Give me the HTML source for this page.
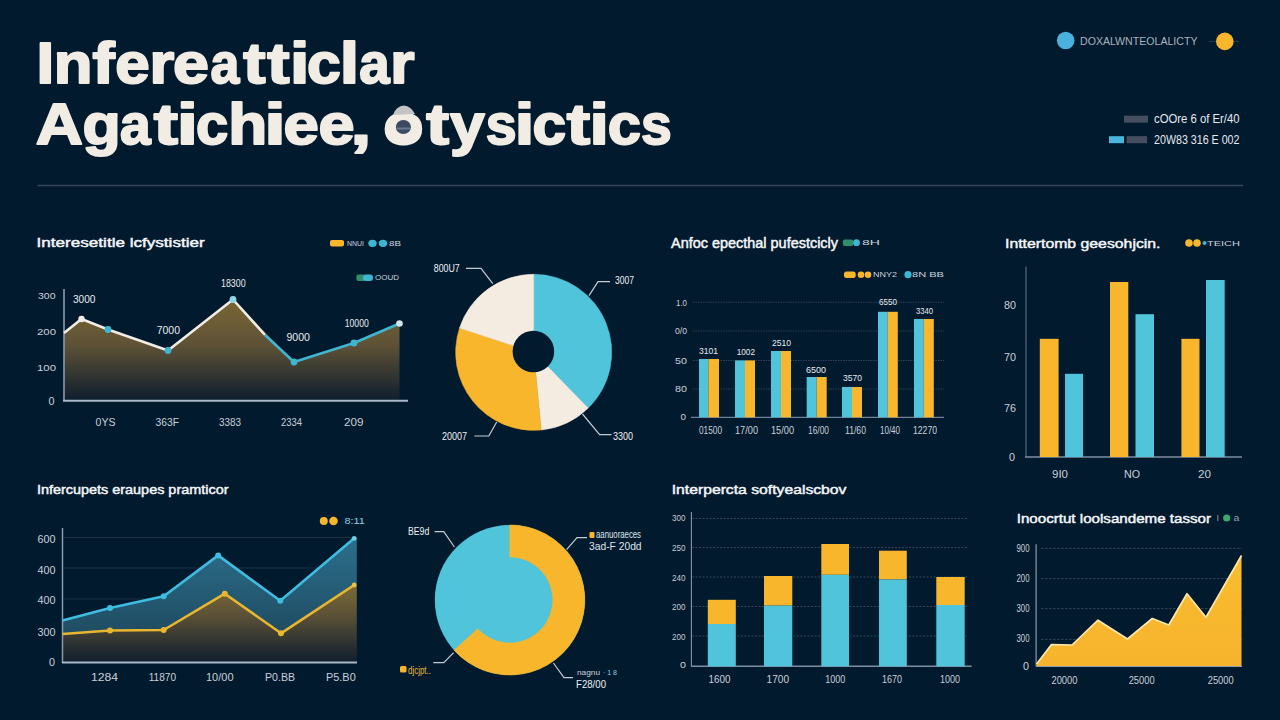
<!DOCTYPE html>
<html><head><meta charset="utf-8"><style>
html,body{margin:0;padding:0;background:#011a2e;width:1280px;height:720px;overflow:hidden}
svg{display:block;font-family:"Liberation Sans", sans-serif}
</style></head><body>
<svg width="1280" height="720" viewBox="0 0 1280 720">
<rect width="1280" height="720" fill="#011a2e"/>
<g fill="#f2ede4" stroke="#f2ede4" stroke-width="2" stroke-linejoin="round">
<text transform="translate(36.54,83.1) scale(1.109,1)" font-size="57.5" font-weight="bold">I</text>
<text transform="translate(53.63,83.1) scale(1.102,1)" font-size="57.5" font-weight="bold">n</text>
<text transform="translate(92.52,83.1) scale(1.159,1)" font-size="57.5" font-weight="bold">f</text>
<text transform="translate(115.36,83.1) scale(1.077,1)" font-size="57.5" font-weight="bold">e</text>
<text transform="translate(149.61,83.1) scale(1.106,1)" font-size="57.5" font-weight="bold">r</text>
<text transform="translate(173.10,83.1) scale(1.125,1)" font-size="57.5" font-weight="bold">e</text>
<text transform="translate(210.38,83.1) scale(0.900,1)" font-size="57.5" font-weight="bold">a</text>
<text transform="translate(243.35,83.1) scale(1.165,1)" font-size="57.5" font-weight="bold">t</text>
<text transform="translate(267.35,83.1) scale(1.165,1)" font-size="57.5" font-weight="bold">t</text>
<text transform="translate(290.04,83.1) scale(1.213,1)" font-size="57.5" font-weight="bold">i</text>
<text transform="translate(306.99,83.1) scale(1.055,1)" font-size="57.5" font-weight="bold">c</text>
<text transform="translate(339.84,83.1) scale(1.213,1)" font-size="57.5" font-weight="bold">l</text>
<text transform="translate(359.15,83.1) scale(0.949,1)" font-size="57.5" font-weight="bold">a</text>
<text transform="translate(390.37,83.1) scale(1.085,1)" font-size="57.5" font-weight="bold">r</text>
<text transform="translate(35.76,144.4) scale(1.135,1)" font-size="57.5" font-weight="bold">A</text>
<text transform="translate(82.42,144.4) scale(1.087,1)" font-size="57.5" font-weight="bold">g</text>
<text transform="translate(119.94,144.4) scale(0.958,1)" font-size="57.5" font-weight="bold">a</text>
<text transform="translate(153.78,144.4) scale(1.266,1)" font-size="57.5" font-weight="bold">t</text>
<text transform="translate(176.78,144.4) scale(1.335,1)" font-size="57.5" font-weight="bold">i</text>
<text transform="translate(195.94,144.4) scale(1.008,1)" font-size="57.5" font-weight="bold">c</text>
<text transform="translate(228.35,144.4) scale(1.110,1)" font-size="57.5" font-weight="bold">h</text>
<text transform="translate(264.35,144.4) scale(1.345,1)" font-size="57.5" font-weight="bold">i</text>
<text transform="translate(283.42,144.4) scale(1.105,1)" font-size="57.5" font-weight="bold">e</text>
<text transform="translate(318.59,144.4) scale(1.129,1)" font-size="57.5" font-weight="bold">e</text>
<text transform="translate(350.62,144.4) scale(1.301,1)" font-size="57.5" font-weight="bold">,</text>
<text transform="translate(383.27,144.4) scale(1.149,1)" font-size="57.5" font-weight="bold">o</text>
<text transform="translate(426.35,144.4) scale(1.190,1)" font-size="57.5" font-weight="bold">t</text>
<text transform="translate(450.10,144.4) scale(1.087,1)" font-size="57.5" font-weight="bold">y</text>
<text transform="translate(485.72,144.4) scale(0.963,1)" font-size="57.5" font-weight="bold">s</text>
<text transform="translate(514.71,144.4) scale(1.224,1)" font-size="57.5" font-weight="bold">i</text>
<text transform="translate(532.44,144.4) scale(1.050,1)" font-size="57.5" font-weight="bold">c</text>
<text transform="translate(566.76,144.4) scale(1.221,1)" font-size="57.5" font-weight="bold">t</text>
<text transform="translate(589.54,144.4) scale(1.213,1)" font-size="57.5" font-weight="bold">i</text>
<text transform="translate(607.71,144.4) scale(1.038,1)" font-size="57.5" font-weight="bold">c</text>
<text transform="translate(640.92,144.4) scale(0.959,1)" font-size="57.5" font-weight="bold">s</text>
</g>
<ellipse cx="403.3" cy="129.5" rx="10" ry="11" fill="#f2ede4"/>
<ellipse cx="403.4" cy="127" rx="7.6" ry="7" fill="#3c4a62"/>
<rect x="396.5" y="127.5" width="14" height="2" fill="#8a96a8" opacity="0.6"/>
<path d="M393,115 Q396,106 404,105.5 Q411,106 415,114 Z" fill="#c4c3c6"/>
<line x1="37.5" y1="185.5" x2="1243" y2="185.5" stroke="#34465a" stroke-width="1.6"/>
<circle cx="1065.7" cy="40.5" r="8.8" fill="#4ab0dc"/>
<text x="1080" y="44.5" font-size="11" fill="#a9b3bf" text-anchor="start" font-weight="normal" textLength="117.5" lengthAdjust="spacingAndGlyphs" >DOXALWNTEOLALICTY</text>
<line x1="1209" y1="41.4" x2="1239" y2="41.4" stroke="#2b3c50" stroke-width="1"/>
<circle cx="1224.8" cy="41.4" r="8.8" fill="#f8b62c"/>
<rect x="1124" y="115.7" width="24" height="7" fill="#454e5e"/>
<text x="1154" y="123.1" font-size="12" fill="#e6e9ee" text-anchor="start" font-weight="normal" textLength="85.5" lengthAdjust="spacingAndGlyphs" >cOOre 6 of Er/40</text>
<rect x="1109" y="136.2" width="15" height="7" fill="#49b6de"/>
<rect x="1126.6" y="136.2" width="20.5" height="7" fill="#454e5e"/>
<text x="1154" y="143.9" font-size="12" fill="#e6e9ee" text-anchor="start" font-weight="normal" textLength="85.5" lengthAdjust="spacingAndGlyphs" >20W83 316 E 002</text>
<text x="36.6" y="246.9" font-size="13" fill="#f4f6f8" text-anchor="start" font-weight="normal" textLength="168.1" lengthAdjust="spacingAndGlyphs" stroke="#f4f6f8" stroke-width="0.45">Interesetitle lcfystistier</text>
<defs><linearGradient id="g1" x1="0" y1="0" x2="0" y2="1"><stop offset="0" stop-color="#7a6734"/><stop offset="0.45" stop-color="#5e5236"/><stop offset="1" stop-color="#0f1e2e"/></linearGradient></defs>
<polygon points="64,333 81.5,319 108,329.5 168,350.5 233,299.5 294,362 354,343 399.5,323.5 399.5,400 64,400" fill="url(#g1)"/>
<line x1="64" y1="289" x2="64" y2="401" stroke="#8a9bb0" stroke-width="1.6"/>
<line x1="63" y1="400.8" x2="408" y2="400.8" stroke="#a9b8c8" stroke-width="2"/>
<polyline points="64,333 81.5,319 108,329.5 168,350.5 233,299.5 265,335" fill="none" stroke="#f2ede4" stroke-width="2.6" stroke-linejoin="round"/>
<polyline points="265,335 294,362 354,343 399.5,323.5" fill="none" stroke="#3fb6d0" stroke-width="2.6" stroke-linejoin="round"/>
<circle cx="108" cy="329.5" r="3.4" fill="#3fb6d0"/>
<circle cx="168" cy="350.5" r="3.4" fill="#3fb6d0"/>
<circle cx="294" cy="362" r="3.4" fill="#3fb6d0"/>
<circle cx="354" cy="343" r="3.4" fill="#3fb6d0"/>
<circle cx="233" cy="299.5" r="3.4" fill="#8fd6e6"/>
<circle cx="81.5" cy="319" r="3.2" fill="#f2ede4"/>
<circle cx="399.5" cy="323.5" r="3.3" fill="#cfe6ee"/>
<text x="38" y="299.4" font-size="9.5" fill="#c9d1da" text-anchor="start" font-weight="normal" textLength="17.5" lengthAdjust="spacingAndGlyphs" >300</text>
<text x="37" y="335.4" font-size="9.5" fill="#c9d1da" text-anchor="start" font-weight="normal" textLength="19" lengthAdjust="spacingAndGlyphs" >200</text>
<text x="37" y="371.4" font-size="9.5" fill="#c9d1da" text-anchor="start" font-weight="normal" textLength="19" lengthAdjust="spacingAndGlyphs" >100</text>
<text x="48.5" y="404.5" font-size="10.5" fill="#c9d1da" text-anchor="start" font-weight="normal" textLength="6.0" lengthAdjust="spacingAndGlyphs" >0</text>
<text x="73" y="302.9" font-size="11" fill="#e8ecf0" text-anchor="start" font-weight="normal" textLength="22.5" lengthAdjust="spacingAndGlyphs" >3000</text>
<text x="156.7" y="333.9" font-size="11" fill="#e8ecf0" text-anchor="start" font-weight="normal" textLength="23.3" lengthAdjust="spacingAndGlyphs" >7000</text>
<text x="221" y="286.6" font-size="11" fill="#e8ecf0" text-anchor="start" font-weight="normal" textLength="24.6" lengthAdjust="spacingAndGlyphs" >18300</text>
<text x="286.5" y="340.9" font-size="11" fill="#e8ecf0" text-anchor="start" font-weight="normal" textLength="23.5" lengthAdjust="spacingAndGlyphs" >9000</text>
<text x="344.8" y="326.5" font-size="11" fill="#e8ecf0" text-anchor="start" font-weight="normal" textLength="23.9" lengthAdjust="spacingAndGlyphs" >10000</text>
<text x="95.5" y="425.9" font-size="11" fill="#c9d1da" text-anchor="start" font-weight="normal" textLength="20.0" lengthAdjust="spacingAndGlyphs" >0YS</text>
<text x="155.5" y="425.9" font-size="11" fill="#c9d1da" text-anchor="start" font-weight="normal" textLength="23.5" lengthAdjust="spacingAndGlyphs" >363F</text>
<text x="219" y="425.9" font-size="11" fill="#c9d1da" text-anchor="start" font-weight="normal" textLength="22" lengthAdjust="spacingAndGlyphs" >3383</text>
<text x="281" y="425.9" font-size="11" fill="#c9d1da" text-anchor="start" font-weight="normal" textLength="21" lengthAdjust="spacingAndGlyphs" >2334</text>
<text x="344" y="425.9" font-size="11" fill="#c9d1da" text-anchor="start" font-weight="normal" textLength="19.5" lengthAdjust="spacingAndGlyphs" >209</text>
<rect x="330" y="240" width="14" height="6.5" rx="2" fill="#f8b62c"/>
<text x="347" y="246.0" font-size="7.5" fill="#c9d2dc" text-anchor="start" font-weight="normal" textLength="17" lengthAdjust="spacingAndGlyphs" >NNUI</text>
<ellipse cx="372.5" cy="243.3" rx="4.2" ry="3.6" fill="#3fb6d0"/><ellipse cx="383" cy="243.3" rx="4.2" ry="3.6" fill="#3fb6d0"/>
<text x="389" y="246.0" font-size="7.5" fill="#c9d2dc" text-anchor="start" font-weight="normal" textLength="12" lengthAdjust="spacingAndGlyphs" >8B</text>
<rect x="356.4" y="274.5" width="9" height="6.5" rx="2" fill="#2f8f6a"/><rect x="363" y="274.5" width="10" height="6.5" rx="3" fill="#3fb6d0"/>
<text x="375" y="280.4" font-size="7.5" fill="#c9d2dc" text-anchor="start" font-weight="normal" textLength="24" lengthAdjust="spacingAndGlyphs" >OOUD</text>
<path d="M533.70,352.30 L533.70,274.30 A78,78 0 0 1 588.18,408.12 Z" fill="#50c4da" stroke="#50c4da" stroke-width="0.6"/>
<path d="M533.70,352.30 L588.18,408.12 A78,78 0 0 1 541.18,429.94 Z" fill="#f4ebe1" stroke="#f4ebe1" stroke-width="0.6"/>
<path d="M533.70,352.30 L541.18,429.94 A78,78 0 0 1 459.60,327.94 Z" fill="#f8b62c" stroke="#f8b62c" stroke-width="0.6"/>
<path d="M533.70,352.30 L459.60,327.94 A78,78 0 0 1 533.70,274.30 Z" fill="#f4ebe1" stroke="#f4ebe1" stroke-width="0.6"/>
<circle cx="533.4" cy="351.5" r="20.8" fill="#011a2e"/>
<polyline points="466,268.4 481,268.4 492.8,283.7" fill="none" stroke="#c3ccd6" stroke-width="1.2"/>
<polyline points="589,295.6 598,281.6 610,281.6" fill="none" stroke="#c3ccd6" stroke-width="1.2"/>
<polyline points="496.7,422 488.8,436 474.3,436" fill="none" stroke="#c3ccd6" stroke-width="1.2"/>
<polyline points="582.5,414 599.6,434.7 611.5,434.7" fill="none" stroke="#c3ccd6" stroke-width="1.2"/>
<text x="433.8" y="271.8" font-size="10.5" fill="#eef1f4" text-anchor="start" font-weight="normal" textLength="25.9" lengthAdjust="spacingAndGlyphs" >800U7</text>
<text x="615" y="283.5" font-size="10.5" fill="#eef1f4" text-anchor="start" font-weight="normal" textLength="19" lengthAdjust="spacingAndGlyphs" >3007</text>
<text x="442" y="439.8" font-size="10.5" fill="#eef1f4" text-anchor="start" font-weight="normal" textLength="25" lengthAdjust="spacingAndGlyphs" >20007</text>
<text x="613" y="439.8" font-size="10.5" fill="#eef1f4" text-anchor="start" font-weight="normal" textLength="20" lengthAdjust="spacingAndGlyphs" >3300</text>
<text x="671" y="247.6" font-size="14" fill="#f4f6f8" text-anchor="start" font-weight="normal" textLength="167" lengthAdjust="spacingAndGlyphs" stroke="#f4f6f8" stroke-width="0.45">Anfoc epecthal pufestcicly</text>
<rect x="842.8" y="239.5" width="10.5" height="6.5" rx="2" fill="#2f8f6a"/><circle cx="856.5" cy="242.7" r="3.4" fill="#3fb6d0"/>
<text x="862" y="245.3" font-size="7.5" fill="#c9d2dc" text-anchor="start" font-weight="normal" textLength="18" lengthAdjust="spacingAndGlyphs" >8H</text>
<rect x="844" y="271.5" width="11.7" height="6.5" rx="2.5" fill="#f8b62c"/><circle cx="861" cy="274.7" r="3.3" fill="#f8b62c"/><circle cx="868" cy="274.7" r="3.3" fill="#f8b62c"/>
<text x="873" y="277.4" font-size="7.5" fill="#c9d2dc" text-anchor="start" font-weight="normal" textLength="24" lengthAdjust="spacingAndGlyphs" >NNY2</text>
<circle cx="908" cy="274.7" r="3.6" fill="#3fb6d0"/>
<text x="912" y="277.4" font-size="7.5" fill="#c9d2dc" text-anchor="start" font-weight="normal" textLength="32" lengthAdjust="spacingAndGlyphs" >8N BB</text>
<line x1="693" y1="302.2" x2="944" y2="302.2" stroke="#34465a" stroke-width="0.9" stroke-dasharray="1.5,1"/>
<line x1="693" y1="331" x2="944" y2="331" stroke="#34465a" stroke-width="0.9" stroke-dasharray="1.5,1"/>
<line x1="693" y1="360.5" x2="944" y2="360.5" stroke="#34465a" stroke-width="0.9" stroke-dasharray="1.5,1"/>
<line x1="693" y1="389" x2="944" y2="389" stroke="#34465a" stroke-width="0.9" stroke-dasharray="1.5,1"/>
<line x1="691" y1="417.3" x2="944" y2="417.3" stroke="#6f8196" stroke-width="1.3"/>
<text x="676" y="305.6" font-size="9.5" fill="#c9d1da" text-anchor="start" font-weight="normal" textLength="11" lengthAdjust="spacingAndGlyphs" >1.0</text>
<text x="675" y="334.4" font-size="9.5" fill="#c9d1da" text-anchor="start" font-weight="normal" textLength="12" lengthAdjust="spacingAndGlyphs" >0/0</text>
<text x="675" y="364.4" font-size="9.5" fill="#c9d1da" text-anchor="start" font-weight="normal" textLength="12" lengthAdjust="spacingAndGlyphs" >50</text>
<text x="675" y="392.4" font-size="9.5" fill="#c9d1da" text-anchor="start" font-weight="normal" textLength="12" lengthAdjust="spacingAndGlyphs" >80</text>
<text x="680.5" y="420.1" font-size="9.5" fill="#c9d1da" text-anchor="start" font-weight="normal" textLength="5.5" lengthAdjust="spacingAndGlyphs" >0</text>
<rect x="699" y="359" width="9.4" height="58.3" fill="#50c4da"/>
<rect x="708.4" y="359" width="10.6" height="58.3" fill="#f8b62c"/>
<rect x="735" y="360.4" width="10.0" height="56.9" fill="#50c4da"/>
<rect x="745" y="360.4" width="10.0" height="56.9" fill="#f8b62c"/>
<rect x="771" y="351" width="10.0" height="66.3" fill="#50c4da"/>
<rect x="781" y="351" width="10.0" height="66.3" fill="#f8b62c"/>
<rect x="806.7" y="377" width="10.0" height="40.3" fill="#50c4da"/>
<rect x="816.7" y="377" width="10.0" height="40.3" fill="#f8b62c"/>
<rect x="842" y="387" width="10.0" height="30.3" fill="#50c4da"/>
<rect x="852" y="387" width="10.0" height="30.3" fill="#f8b62c"/>
<rect x="878" y="311.8" width="9.8" height="105.5" fill="#50c4da"/>
<rect x="887.8" y="311.8" width="10.0" height="105.5" fill="#f8b62c"/>
<rect x="914" y="319" width="9.8" height="98.3" fill="#50c4da"/>
<rect x="923.8" y="319" width="10.0" height="98.3" fill="#f8b62c"/>
<text x="699" y="354.1" font-size="9.5" fill="#e8ecf0" text-anchor="start" font-weight="normal" textLength="19" lengthAdjust="spacingAndGlyphs" >3101</text>
<text x="736.7" y="355.4" font-size="9.5" fill="#e8ecf0" text-anchor="start" font-weight="normal" textLength="18.3" lengthAdjust="spacingAndGlyphs" >1002</text>
<text x="772" y="346.1" font-size="9.5" fill="#e8ecf0" text-anchor="start" font-weight="normal" textLength="19" lengthAdjust="spacingAndGlyphs" >2510</text>
<text x="806" y="372.7" font-size="9.5" fill="#e8ecf0" text-anchor="start" font-weight="normal" textLength="20" lengthAdjust="spacingAndGlyphs" >6500</text>
<text x="843" y="381.2" font-size="9.5" fill="#e8ecf0" text-anchor="start" font-weight="normal" textLength="19" lengthAdjust="spacingAndGlyphs" >3570</text>
<text x="879" y="305.4" font-size="9.5" fill="#e8ecf0" text-anchor="start" font-weight="normal" textLength="18" lengthAdjust="spacingAndGlyphs" >6550</text>
<text x="916" y="313.8" font-size="9.5" fill="#e8ecf0" text-anchor="start" font-weight="normal" textLength="17" lengthAdjust="spacingAndGlyphs" >3340</text>
<text x="699" y="433.6" font-size="10" fill="#c9d1da" text-anchor="start" font-weight="normal" textLength="23" lengthAdjust="spacingAndGlyphs" >01500</text>
<text x="735" y="433.6" font-size="10" fill="#c9d1da" text-anchor="start" font-weight="normal" textLength="23" lengthAdjust="spacingAndGlyphs" >17/00</text>
<text x="771" y="433.6" font-size="10" fill="#c9d1da" text-anchor="start" font-weight="normal" textLength="23" lengthAdjust="spacingAndGlyphs" >15/00</text>
<text x="808" y="433.6" font-size="10" fill="#c9d1da" text-anchor="start" font-weight="normal" textLength="21" lengthAdjust="spacingAndGlyphs" >16/00</text>
<text x="845" y="433.6" font-size="10" fill="#c9d1da" text-anchor="start" font-weight="normal" textLength="21" lengthAdjust="spacingAndGlyphs" >11/60</text>
<text x="880" y="433.6" font-size="10" fill="#c9d1da" text-anchor="start" font-weight="normal" textLength="20" lengthAdjust="spacingAndGlyphs" >10/40</text>
<text x="913" y="433.6" font-size="10" fill="#c9d1da" text-anchor="start" font-weight="normal" textLength="24" lengthAdjust="spacingAndGlyphs" >12270</text>
<text x="1005" y="247.8" font-size="13.5" fill="#f4f6f8" text-anchor="start" font-weight="normal" textLength="155.5" lengthAdjust="spacingAndGlyphs" stroke="#f4f6f8" stroke-width="0.45">Inttertomb geesohjcin.</text>
<circle cx="1189" cy="243" r="3.8" fill="#f8b62c"/><circle cx="1197" cy="243" r="3.8" fill="#f8b62c"/><circle cx="1204.5" cy="243" r="2" fill="#3fb6d0"/>
<text x="1207" y="245.7" font-size="7.5" fill="#c9d2dc" text-anchor="start" font-weight="normal" textLength="33" lengthAdjust="spacingAndGlyphs" >TEICH</text>
<line x1="1026" y1="266.5" x2="1026" y2="457" stroke="#5a6b80" stroke-width="1.2"/>
<line x1="1025" y1="457" x2="1242" y2="457" stroke="#7d8ea2" stroke-width="1.4"/>
<rect x="1039.8" y="338.8" width="18.8" height="118.2" fill="#f8b62c"/>
<rect x="1065" y="373.8" width="18.0" height="83.2" fill="#50c4da"/>
<rect x="1110" y="282" width="18.3" height="175.0" fill="#f8b62c"/>
<rect x="1135.5" y="314.2" width="18.5" height="142.8" fill="#50c4da"/>
<rect x="1181.4" y="338.8" width="18.1" height="118.2" fill="#f8b62c"/>
<rect x="1206" y="280" width="18.7" height="177.0" fill="#50c4da"/>
<text x="1004" y="308.8" font-size="10.5" fill="#c9d1da" text-anchor="start" font-weight="normal" textLength="12" lengthAdjust="spacingAndGlyphs" >80</text>
<text x="1004" y="360.6" font-size="10.5" fill="#c9d1da" text-anchor="start" font-weight="normal" textLength="12" lengthAdjust="spacingAndGlyphs" >70</text>
<text x="1004" y="412.3" font-size="10.5" fill="#c9d1da" text-anchor="start" font-weight="normal" textLength="12" lengthAdjust="spacingAndGlyphs" >76</text>
<text x="1009" y="460.8" font-size="10.5" fill="#c9d1da" text-anchor="start" font-weight="normal" textLength="6" lengthAdjust="spacingAndGlyphs" >0</text>
<text x="1052" y="477.8" font-size="10.5" fill="#c9d1da" text-anchor="start" font-weight="normal" textLength="16" lengthAdjust="spacingAndGlyphs" >9I0</text>
<text x="1124" y="477.8" font-size="10.5" fill="#c9d1da" text-anchor="start" font-weight="normal" textLength="16" lengthAdjust="spacingAndGlyphs" >NO</text>
<text x="1198" y="477.8" font-size="10.5" fill="#c9d1da" text-anchor="start" font-weight="normal" textLength="13" lengthAdjust="spacingAndGlyphs" >20</text>
<text x="36.9" y="493.9" font-size="13" fill="#f4f6f8" text-anchor="start" font-weight="normal" textLength="191.6" lengthAdjust="spacingAndGlyphs" stroke="#f4f6f8" stroke-width="0.45">Infercupets eraupes pramticor</text>
<defs><linearGradient id="g5b" x1="0" y1="0" x2="0" y2="1"><stop offset="0" stop-color="#2c6f8c"/><stop offset="1" stop-color="#1f4c62"/></linearGradient><linearGradient id="g5y" x1="0" y1="0" x2="0" y2="1"><stop offset="0" stop-color="#7c6a38"/><stop offset="0.4" stop-color="#5a5036"/><stop offset="1" stop-color="#0f1e2e"/></linearGradient></defs>
<line x1="64" y1="537.5" x2="357" y2="537.5" stroke="#1d2f43" stroke-width="1"/>
<line x1="64" y1="568" x2="357" y2="568" stroke="#1d2f43" stroke-width="1"/>
<line x1="64" y1="599" x2="357" y2="599" stroke="#1d2f43" stroke-width="1"/>
<polygon points="62.5,620.5 110,608 163.7,596.2 218.2,555.4 280.3,600.8 354.2,538.3 356.8,538.3 356.8,585 354.2,585 281,633.3 224.8,593.7 163.7,630 110,630.5 62.5,634" fill="url(#g5b)"/>
<polygon points="62.5,634 110,630.5 163.7,630 224.8,593.7 281,633.3 354.2,585 356.8,585 356.8,662.3 62.5,662.3" fill="url(#g5y)"/>
<line x1="62.5" y1="528" x2="62.5" y2="663" stroke="#8a9bb0" stroke-width="1.5"/>
<line x1="62" y1="662.5" x2="357" y2="662.5" stroke="#a9b8c8" stroke-width="1.8"/>
<polyline points="62.5,620.5 110,608 163.7,596.2 218.2,555.4 280.3,600.8 354.2,538.3" fill="none" stroke="#3fbde0" stroke-width="2.6" stroke-linejoin="round"/>
<polyline points="62.5,634 110,630.5 163.7,630 224.8,593.7 281,633.3 354.2,585" fill="none" stroke="#e9b630" stroke-width="2.6" stroke-linejoin="round"/>
<circle cx="110" cy="608" r="3" fill="#3fbde0"/>
<circle cx="163.7" cy="596.2" r="3" fill="#3fbde0"/>
<circle cx="218.2" cy="555.4" r="3" fill="#3fbde0"/>
<circle cx="280.3" cy="600.8" r="3" fill="#3fbde0"/>
<circle cx="110" cy="630.5" r="3" fill="#e9b630"/>
<circle cx="163.7" cy="630" r="3" fill="#e9b630"/>
<circle cx="224.8" cy="593.7" r="3" fill="#e9b630"/>
<circle cx="281" cy="633.3" r="3" fill="#e9b630"/>
<circle cx="354.2" cy="538.3" r="2.4" fill="#6fd0ea"/><circle cx="354.2" cy="585" r="2.4" fill="#f0c040"/>
<text x="37.5" y="543.3" font-size="10.5" fill="#c9d1da" text-anchor="start" font-weight="normal" textLength="18.0" lengthAdjust="spacingAndGlyphs" >600</text>
<text x="37.5" y="573.8" font-size="10.5" fill="#c9d1da" text-anchor="start" font-weight="normal" textLength="18.0" lengthAdjust="spacingAndGlyphs" >400</text>
<text x="37.5" y="604.3" font-size="10.5" fill="#c9d1da" text-anchor="start" font-weight="normal" textLength="18.0" lengthAdjust="spacingAndGlyphs" >400</text>
<text x="37.5" y="635.5" font-size="10.5" fill="#c9d1da" text-anchor="start" font-weight="normal" textLength="18.0" lengthAdjust="spacingAndGlyphs" >300</text>
<text x="49" y="665.8" font-size="10.5" fill="#c9d1da" text-anchor="start" font-weight="normal" textLength="6" lengthAdjust="spacingAndGlyphs" >0</text>
<text x="91" y="680.6" font-size="10.5" fill="#c9d1da" text-anchor="start" font-weight="normal" textLength="27" lengthAdjust="spacingAndGlyphs" >1284</text>
<text x="148.7" y="680.6" font-size="10.5" fill="#c9d1da" text-anchor="start" font-weight="normal" textLength="27.3" lengthAdjust="spacingAndGlyphs" >11870</text>
<text x="206" y="680.6" font-size="10.5" fill="#c9d1da" text-anchor="start" font-weight="normal" textLength="27.5" lengthAdjust="spacingAndGlyphs" >10/00</text>
<text x="265" y="680.6" font-size="10.5" fill="#c9d1da" text-anchor="start" font-weight="normal" textLength="30" lengthAdjust="spacingAndGlyphs" >P0.BB</text>
<text x="326" y="680.6" font-size="10.5" fill="#c9d1da" text-anchor="start" font-weight="normal" textLength="29.7" lengthAdjust="spacingAndGlyphs" >P5.B0</text>
<circle cx="323.8" cy="521" r="4" fill="#f8b62c"/><circle cx="333.5" cy="521" r="4.3" fill="#f8b62c"/>
<text x="344.4" y="524.2" font-size="9" fill="#8fd0e6" text-anchor="start" font-weight="normal" textLength="20.3" lengthAdjust="spacingAndGlyphs" >8:11</text>
<circle cx="509.8" cy="600" r="75" fill="#50c4da"/>
<path d="M509.80,525.00 A75,75 0 1 1 454.06,650.18 L477.84,628.77 A43,43 0 1 0 509.80,557.00 Z" fill="#f8b62c" stroke="#f8b62c" stroke-width="0.6"/>
<polyline points="434.6,531.6 443.8,531.6 454.4,547" fill="none" stroke="#c3ccd6" stroke-width="1.2"/>
<polyline points="566.6,549.6 577,537.6 587,537.6" fill="none" stroke="#c3ccd6" stroke-width="1.2"/>
<polyline points="453.6,652.6 443.8,662.6 433.3,662.6" fill="none" stroke="#c3ccd6" stroke-width="1.2"/>
<polyline points="553.4,663 564,677.6 573,677.6" fill="none" stroke="#c3ccd6" stroke-width="1.2"/>
<text x="408" y="534.8" font-size="10.5" fill="#eef1f4" text-anchor="start" font-weight="normal" textLength="21.3" lengthAdjust="spacingAndGlyphs" >BE9d</text>
<rect x="589.5" y="532" width="5" height="6" rx="1" fill="#f8b62c"/>
<text x="596" y="537.8" font-size="10" fill="#dfe4ea" text-anchor="start" font-weight="normal" textLength="45" lengthAdjust="spacingAndGlyphs" >aanuoraeces</text>
<text x="589" y="550.2" font-size="10" fill="#dfe4ea" text-anchor="start" font-weight="normal" textLength="52.6" lengthAdjust="spacingAndGlyphs" >3ad-F 20dd</text>
<rect x="400" y="666" width="6.5" height="6.5" rx="1.5" fill="#f8b62c"/>
<text x="408" y="673.9" font-size="10" fill="#e9b43a" text-anchor="start" font-weight="normal" textLength="23" lengthAdjust="spacingAndGlyphs" >djcjpt..</text>
<text x="577" y="674.9" font-size="8" fill="#c9d2dc" text-anchor="start" font-weight="normal" textLength="23" lengthAdjust="spacingAndGlyphs" >nagnu</text>
<text x="603" y="674.9" font-size="8" fill="#8fd0e6" text-anchor="start" font-weight="normal" textLength="14" lengthAdjust="spacingAndGlyphs" >· 1 8</text>
<text x="576" y="687.8" font-size="10.5" fill="#eef1f4" text-anchor="start" font-weight="normal" textLength="30" lengthAdjust="spacingAndGlyphs" >F28/00</text>
<text x="671.7" y="494.1" font-size="13" fill="#f4f6f8" text-anchor="start" font-weight="normal" textLength="174.8" lengthAdjust="spacingAndGlyphs" stroke="#f4f6f8" stroke-width="0.45">Interpercta softyealscbov</text>
<line x1="692" y1="518.5" x2="968" y2="518.5" stroke="#3a4b5e" stroke-width="0.9" stroke-dasharray="2,1.5"/>
<line x1="692" y1="547.5" x2="968" y2="547.5" stroke="#3a4b5e" stroke-width="0.9" stroke-dasharray="2,1.5"/>
<line x1="692" y1="577" x2="968" y2="577" stroke="#3a4b5e" stroke-width="0.9" stroke-dasharray="2,1.5"/>
<line x1="692" y1="606.5" x2="968" y2="606.5" stroke="#3a4b5e" stroke-width="0.9" stroke-dasharray="2,1.5"/>
<line x1="692" y1="636" x2="968" y2="636" stroke="#3a4b5e" stroke-width="0.9" stroke-dasharray="2,1.5"/>
<line x1="691.4" y1="512" x2="691.4" y2="666.5" stroke="#7a8ba0" stroke-width="1.2"/>
<line x1="691" y1="666.3" x2="971.7" y2="666.3" stroke="#7d8ea2" stroke-width="1.5"/>
<rect x="707.8" y="599.8" width="28.0" height="24.2" fill="#f8b62c"/>
<rect x="707.8" y="624" width="28.0" height="42.3" fill="#50c4da"/>
<rect x="764" y="576" width="28.3" height="29.6" fill="#f8b62c"/>
<rect x="764" y="605.6" width="28.3" height="60.7" fill="#50c4da"/>
<rect x="821.3" y="544" width="27.7" height="30.8" fill="#f8b62c"/>
<rect x="821.3" y="574.8" width="27.7" height="91.5" fill="#50c4da"/>
<rect x="879" y="550.7" width="27.8" height="28.8" fill="#f8b62c"/>
<rect x="879" y="579.5" width="27.8" height="86.8" fill="#50c4da"/>
<rect x="936.3" y="577" width="28.4" height="28.0" fill="#f8b62c"/>
<rect x="936.3" y="605" width="28.4" height="61.3" fill="#50c4da"/>
<text x="672" y="521.2" font-size="9" fill="#c5ccd5" text-anchor="start" font-weight="normal" textLength="13.5" lengthAdjust="spacingAndGlyphs" >300</text>
<text x="672" y="551.2" font-size="9" fill="#c5ccd5" text-anchor="start" font-weight="normal" textLength="13.5" lengthAdjust="spacingAndGlyphs" >250</text>
<text x="672" y="581.2" font-size="9" fill="#c5ccd5" text-anchor="start" font-weight="normal" textLength="13.5" lengthAdjust="spacingAndGlyphs" >240</text>
<text x="672" y="610.2" font-size="9" fill="#c5ccd5" text-anchor="start" font-weight="normal" textLength="13.5" lengthAdjust="spacingAndGlyphs" >200</text>
<text x="672" y="639.7" font-size="9" fill="#c5ccd5" text-anchor="start" font-weight="normal" textLength="13.5" lengthAdjust="spacingAndGlyphs" >200</text>
<text x="680" y="668.4" font-size="9.5" fill="#c9d1da" text-anchor="start" font-weight="normal" textLength="6" lengthAdjust="spacingAndGlyphs" >0</text>
<text x="708.6" y="682.8" font-size="10.5" fill="#c9d1da" text-anchor="start" font-weight="normal" textLength="21.9" lengthAdjust="spacingAndGlyphs" >1600</text>
<text x="766.6" y="682.8" font-size="10.5" fill="#c9d1da" text-anchor="start" font-weight="normal" textLength="22.4" lengthAdjust="spacingAndGlyphs" >1700</text>
<text x="825.3" y="682.8" font-size="10.5" fill="#c9d1da" text-anchor="start" font-weight="normal" textLength="20.1" lengthAdjust="spacingAndGlyphs" >1000</text>
<text x="882" y="682.8" font-size="10.5" fill="#c9d1da" text-anchor="start" font-weight="normal" textLength="20" lengthAdjust="spacingAndGlyphs" >1670</text>
<text x="940" y="682.8" font-size="10.5" fill="#c9d1da" text-anchor="start" font-weight="normal" textLength="20" lengthAdjust="spacingAndGlyphs" >1000</text>
<text x="1016.7" y="522.7" font-size="13" fill="#f4f6f8" text-anchor="start" font-weight="normal" textLength="194.3" lengthAdjust="spacingAndGlyphs" stroke="#f4f6f8" stroke-width="0.45">Inoocrtut loolsandeme tassor</text>
<rect x="1217" y="515" width="1.5" height="6" fill="#5a6878"/>
<circle cx="1226.7" cy="518" r="3.6" fill="#3aa870"/>
<text x="1233.5" y="521.2" font-size="9" fill="#8fa0b4" text-anchor="start" font-weight="normal" textLength="5.9" lengthAdjust="spacingAndGlyphs" >a</text>
<line x1="1041" y1="548.4" x2="1242" y2="548.4" stroke="#3c4c5e" stroke-width="0.9" stroke-dasharray="2.5,1.5"/>
<line x1="1041" y1="578.6" x2="1242" y2="578.6" stroke="#3c4c5e" stroke-width="0.9" stroke-dasharray="2.5,1.5"/>
<line x1="1041" y1="608.6" x2="1242" y2="608.6" stroke="#3c4c5e" stroke-width="0.9" stroke-dasharray="2.5,1.5"/>
<line x1="1041" y1="639.4" x2="1242" y2="639.4" stroke="#3c4c5e" stroke-width="0.9" stroke-dasharray="2.5,1.5"/>
<line x1="1036.1" y1="544.2" x2="1036.1" y2="666.5" stroke="#7f90a4" stroke-width="1.3"/>
<defs><linearGradient id="g8" x1="0" y1="0" x2="0" y2="1"><stop offset="0" stop-color="#f9bc30"/><stop offset="1" stop-color="#f6b42c"/></linearGradient></defs>
<polygon points="1036.6,664 1051.5,644.5 1072,645 1098,620.2 1127.5,639 1152.3,618.5 1168.8,625 1187,593.7 1205.9,617.3 1241.5,555.5 1241.5,666.5 1036.6,666.5" fill="url(#g8)"/>
<polyline points="1036.6,664 1051.5,644.5 1072,645 1098,620.2 1127.5,639 1152.3,618.5 1168.8,625 1187,593.7 1205.9,617.3 1241.5,555.5" fill="none" stroke="#fde7b0" stroke-width="1.7" stroke-linejoin="round"/>
<line x1="1036" y1="666.5" x2="1242" y2="666.5" stroke="#8ea0b4" stroke-width="1.2"/>
<text x="1016.5" y="551.5" font-size="10.5" fill="#c9d1da" text-anchor="start" font-weight="normal" textLength="13.0" lengthAdjust="spacingAndGlyphs" >900</text>
<text x="1016.5" y="582.2" font-size="10.5" fill="#c9d1da" text-anchor="start" font-weight="normal" textLength="13.0" lengthAdjust="spacingAndGlyphs" >200</text>
<text x="1016.5" y="611.8" font-size="10.5" fill="#c9d1da" text-anchor="start" font-weight="normal" textLength="13.0" lengthAdjust="spacingAndGlyphs" >300</text>
<text x="1016.5" y="642.4" font-size="10.5" fill="#c9d1da" text-anchor="start" font-weight="normal" textLength="13.0" lengthAdjust="spacingAndGlyphs" >300</text>
<text x="1023" y="669.8" font-size="10.5" fill="#c9d1da" text-anchor="start" font-weight="normal" textLength="6" lengthAdjust="spacingAndGlyphs" >0</text>
<text x="1051.5" y="684.4" font-size="10.5" fill="#c9d1da" text-anchor="start" font-weight="normal" textLength="25.9" lengthAdjust="spacingAndGlyphs" >20000</text>
<text x="1128.7" y="684.4" font-size="10.5" fill="#c9d1da" text-anchor="start" font-weight="normal" textLength="25.9" lengthAdjust="spacingAndGlyphs" >25000</text>
<text x="1207.7" y="684.4" font-size="10.5" fill="#c9d1da" text-anchor="start" font-weight="normal" textLength="26.0" lengthAdjust="spacingAndGlyphs" >25000</text>
</svg>
</body></html>
